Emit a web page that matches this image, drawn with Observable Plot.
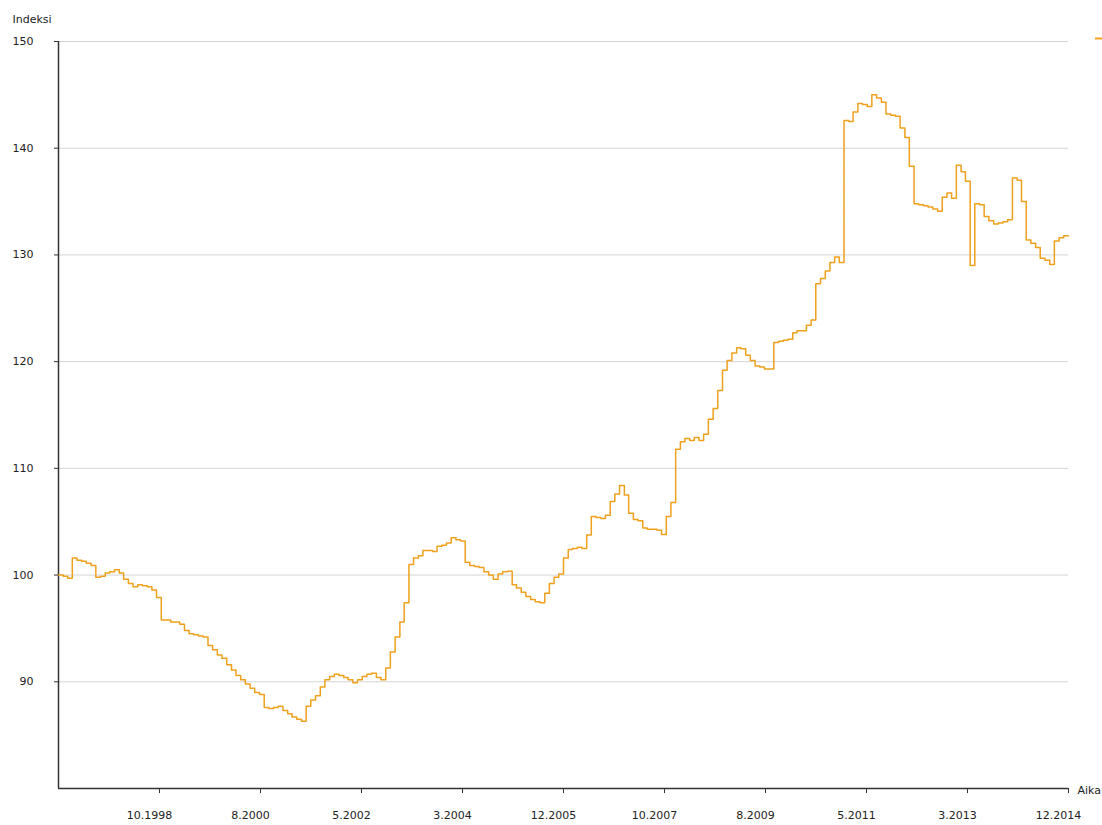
<!DOCTYPE html>
<html><head><meta charset="utf-8">
<script src="https://cdn.jsdelivr.net/npm/d3@7"></script>
<script src="https://cdn.jsdelivr.net/npm/@observablehq/plot@0.6"></script>
<style>body{margin:0;background:#fff;} svg{display:block}</style>
</head><body><div id="chart"></div>
<script>
// Monthly index values, January 1997 – December 2014
const startDate = "1997-01-01";
const endDate = "2015-01-01";
const indexValues = [
  // 1997
  100.0, 99.9, 99.7, 101.6, 101.4, 101.3, 101.1, 100.9, 99.8, 99.9, 100.2, 100.3,
  // 1998
  100.5, 100.2, 99.6, 99.2, 98.9, 99.1, 99.0, 98.9, 98.6, 97.9, 95.8, 95.8,
  // 1999
  95.6, 95.6, 95.4, 94.8, 94.5, 94.4, 94.3, 94.2, 93.4, 93.0, 92.5, 92.2,
  // 2000
  91.6, 91.1, 90.6, 90.2, 89.8, 89.4, 89.0, 88.8, 87.6, 87.5, 87.6, 87.7,
  // 2001
  87.3, 87.0, 86.7, 86.5, 86.3, 87.7, 88.3, 88.7, 89.5, 90.2, 90.5, 90.7,
  // 2002
  90.6, 90.4, 90.2, 89.9, 90.2, 90.5, 90.7, 90.8, 90.4, 90.2, 91.3, 92.8,
  // 2003
  94.2, 95.6, 97.4, 101.0, 101.6, 101.8, 102.3, 102.3, 102.2, 102.7, 102.8, 103.0,
  // 2004
  103.5, 103.3, 103.2, 101.2, 100.9, 100.8, 100.7, 100.3, 100.0, 99.6, 100.1, 100.3,
  // 2005
  100.35, 99.1, 98.8, 98.4, 98.0, 97.7, 97.5, 97.4, 98.3, 99.2, 99.8, 100.1,
  // 2006
  101.6, 102.4, 102.5, 102.6, 102.5, 103.75, 105.5, 105.4, 105.3, 105.6, 106.9, 107.6,
  // 2007
  108.4, 107.5, 105.8, 105.2, 105.1, 104.4, 104.3, 104.3, 104.2, 103.8, 105.5, 106.8,
  // 2008
  111.8, 112.5, 112.8, 112.6, 112.9, 112.6, 113.2, 114.6, 115.6, 117.3, 119.2, 120.1,
  // 2009
  120.8, 121.3, 121.2, 120.6, 120.1, 119.6, 119.5, 119.3, 119.3, 121.8, 121.9, 122.0,
  // 2010
  122.1, 122.7, 122.9, 122.9, 123.4, 123.9, 127.3, 127.8, 128.5, 129.3, 129.8, 129.3,
  // 2011
  142.6, 142.5, 143.4, 144.2, 144.1, 143.9, 145.0, 144.7, 144.3, 143.2, 143.1, 143.0,
  // 2012
  141.9, 141.0, 138.3, 134.8, 134.7, 134.6, 134.5, 134.3, 134.1, 135.4, 135.8, 135.3,
  // 2013
  138.4, 137.8, 136.9, 129.0, 134.8, 134.7, 133.6, 133.2, 132.9, 133.0, 133.1, 133.3,
  // 2014
  137.2, 137.0, 135.0, 131.4, 131.1, 130.7, 129.7, 129.5, 129.1, 131.3, 131.6, 131.8
];
const xTickLabels = ["10.1998", "8.2000", "5.2002", "3.2004", "12.2005", "10.2007", "8.2009", "5.2011", "3.2013", "12.2014"];
const yTicks = [90, 100, 110, 120, 130, 140, 150];
const yDomain = [80, 150];
const yTitle = "Indeksi";
const xTitle = "Aika";
const lineColor = "#EFA01C";

const start = new Date(startDate), end = new Date(endDate);
const data = indexValues.map((v, i) => ({date: d3.utcMonth.offset(start, i), value: v}));
// hold the last monthly value until the end of its month
data.push({date: d3.utcMonth.offset(start, indexValues.length), value: indexValues[indexValues.length - 1]});
const tickDates = xTickLabels.map((_, i) => new Date(+start + (i + 1) * (end - start) / xTickLabels.length));
const labelMap = new Map(tickDates.map((d, i) => [+d, xTickLabels[i]]));

const chart = Plot.plot({
  width: 1102, height: 825,
  marginLeft: 58, marginRight: 34, marginTop: 41, marginBottom: 37,
  style: {fontFamily: "DejaVu Sans", fontSize: "11px", color: "#222", background: "#fff"},
  x: {type: "utc", domain: [start, end], axis: null},
  y: {domain: yDomain, axis: null},
  marks: [
    Plot.gridY(yTicks, {stroke: "#d4d4d4", strokeOpacity: 1, strokeWidth: 1}),
    Plot.ruleX([start], {stroke: "#333", strokeWidth: 1.5}),
    Plot.ruleY([yDomain[0]], {stroke: "#333", strokeWidth: 1.5}),
    Plot.axisY(yTicks, {anchor: "left", tickSize: 4, tickPadding: 21, stroke: "#333", fill: "#222", label: null}),
    Plot.axisX(tickDates, {anchor: "bottom", tickSize: 5, fill: "none", stroke: "#333", label: null}),
    Plot.axisX(tickDates, {anchor: "bottom", tickSize: 5, tickPadding: 18, stroke: "none", fill: "#222", dx: -10, tickFormat: d => labelMap.get(+d), label: null}),
    Plot.line(data, {x: "date", y: "value", curve: "step-after", stroke: lineColor, strokeWidth: 1.5}),
    Plot.text([yTitle], {text: d => d, frameAnchor: "top-left", dx: -46, dy: -22, textAnchor: "start", lineAnchor: "middle", fill: "#222"}),
    Plot.text([xTitle], {text: d => d, frameAnchor: "bottom-right", dx: 9, dy: 2, textAnchor: "start", lineAnchor: "middle", fill: "#222"})
  ]
});
document.getElementById("chart").appendChild(chart);
// cut-off legend swatch at the top right corner
d3.select(chart).append("line")
  .attr("x1", 1095).attr("x2", 1102).attr("y1", 38.5).attr("y2", 38.5)
  .attr("stroke", lineColor).attr("stroke-width", 2);
</script>
</body></html>
